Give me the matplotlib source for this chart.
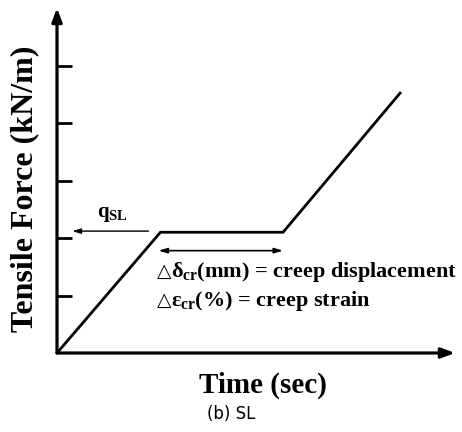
import matplotlib
matplotlib.use("Agg")
import matplotlib.pyplot as plt

# Loading history: ramp, sustained load (creep), ramp again
time = [0.0, 2.6, 5.68, 8.62]
force = [0.0, 2.1, 2.1, 4.52]
y_ticks = [1, 2, 3, 4, 5]
q_sl = 2.1

plt.rcParams['mathtext.fontset'] = 'custom'
plt.rcParams['mathtext.rm'] = 'Liberation Serif:bold'
plt.rcParams['mathtext.it'] = 'Liberation Serif:bold'
plt.rcParams['mathtext.bf'] = 'Liberation Serif:bold'

serif = ['Liberation Serif', 'DejaVu Serif']

fig = plt.figure(figsize=(4.62, 4.32), dpi=100)
W, H = 462, 432
x0, y0, x1, y1 = 57, 353, 455, 8
ax = fig.add_axes([x0 / W, (H - y0) / H, (x1 - x0) / W, (y0 - y1) / H])
ax.set_xlim(0, 10)
ax.set_ylim(0, 6)
for s in ax.spines.values():
    s.set_visible(False)

# Axis arrows
for tip in [(1.0, 0), (0, 1.0)]:
    ax.annotate('', xy=tip, xytext=(0, 0), xycoords='axes fraction',
                arrowprops=dict(arrowstyle='-|>,head_length=0.8,head_width=0.3',
                                lw=2.3, color='black', shrinkA=0, shrinkB=0))

ax.set_xticks([])
ax.set_yticks(y_ticks)
ax.set_yticklabels([])
ax.tick_params(axis='y', direction='in', length=11, width=2.0, color='black')

ax.plot(time, force, color='black', lw=2.0, solid_joinstyle='miter')

# Sustained load marker
ax.annotate('', xy=(0.38, q_sl + 0.02), xytext=(2.3, q_sl + 0.02),
            arrowprops=dict(arrowstyle='-|>,head_length=0.5,head_width=0.15',
                            lw=1.0, color='black', shrinkA=0, shrinkB=0))
ax.text(1.0, q_sl + 0.15, r'q$_{\mathrm{SL}}$', fontsize=15, fontweight='bold',
        family=serif, ha='left', va='bottom')

# Creep duration
ax.annotate('', xy=(5.68, 1.78), xytext=(2.55, 1.78),
            arrowprops=dict(arrowstyle='<|-|>,head_length=0.5,head_width=0.15',
                            lw=1.2, color='black', shrinkA=0, shrinkB=0))
lines = [(1.32, r'$\delta_{\mathrm{cr}}$(mm) = creep displacement'),
         (0.82, r'$\varepsilon_{\mathrm{cr}}$(%) = creep strain')]
for yv, label in lines:
    ax.text(2.5, yv, '\u25b3', fontsize=13.5, family=['DejaVu Sans'],
            ha='left', va='baseline')
    ax.text(2.86, yv, label, fontsize=16, fontweight='bold', family=serif,
            ha='left', va='baseline')

fig.text(25 / W, 1 - 189 / H, 'Tensile Force (kN/m)', rotation=90, fontsize=23,
         fontweight='bold', family=serif, ha='center', va='center')
fig.text(263 / W, 1 - 385 / H, 'Time (sec)', fontsize=21, fontweight='bold',
         family=serif, ha='center', va='center')
fig.text(231 / W, 1 - 414 / H, '(b) SL', fontsize=12, family=['DejaVu Sans'],
         ha='center', va='center')

fig.savefig('out.png', dpi=100, facecolor='white')
